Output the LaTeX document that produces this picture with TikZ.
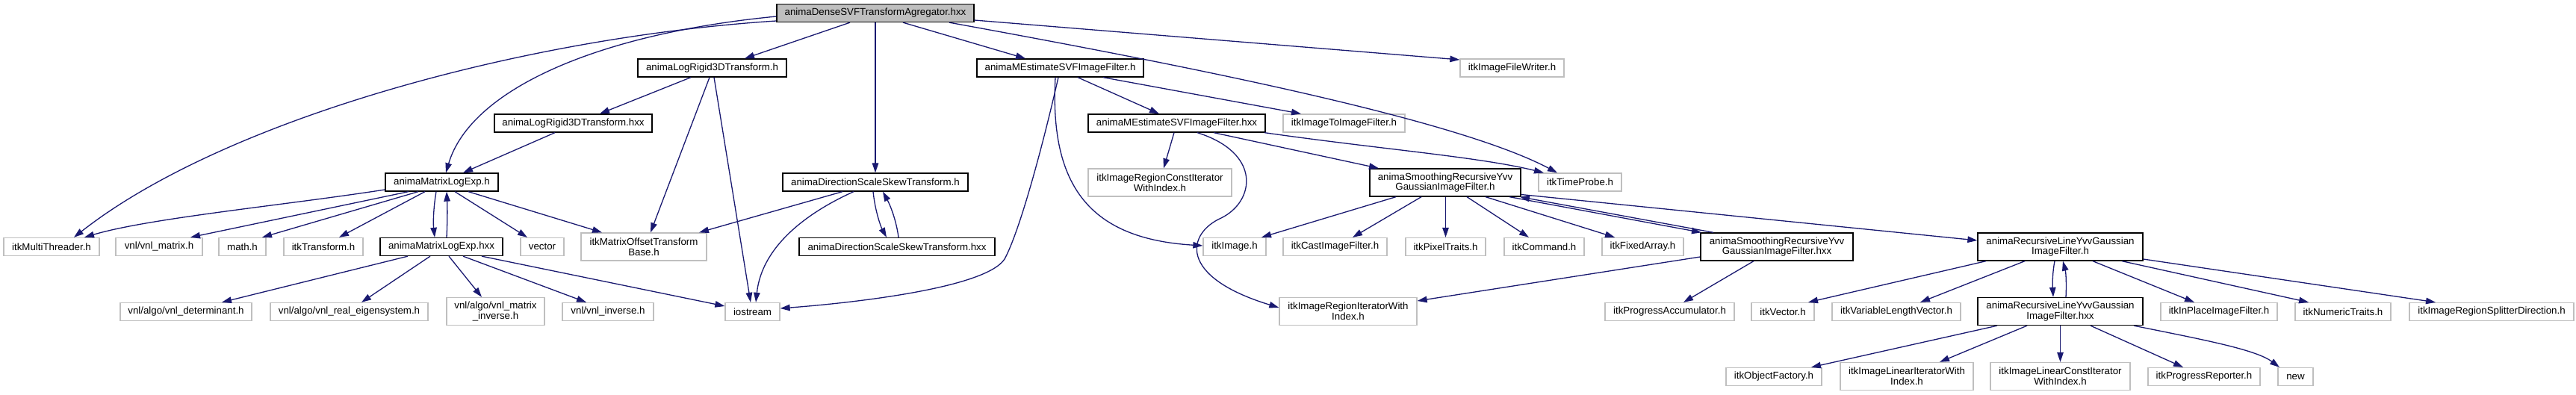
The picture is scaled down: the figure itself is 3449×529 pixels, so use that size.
\documentclass[tikz,border=0pt]{standalone}
\usepackage{fontspec}
\setmainfont{Liberation Sans}
\usetikzlibrary{arrows.meta}
\definecolor{edgecol}{HTML}{191970}
\definecolor{greyb}{HTML}{BFBFBF}
\begin{document}
\begin{tikzpicture}[x=1pt,y=-1pt,
  box/.style={draw=black,line width=1.3pt,fill=white,inner sep=0pt,align=center,
    font=\fontsize{13.3}{13.6}\selectfont},
  doc/.style={box,minimum height=24pt},
  docd/.style={box,minimum height=37pt},
  ext/.style={box,draw=greyb,minimum height=24pt},
  extd/.style={box,draw=greyb,minimum height=37pt},
  root/.style={box,fill=greyb,minimum height=24pt},
  edge/.style={draw=edgecol,line width=1.3pt,-{Triangle[length=13pt,width=8.5pt]}}]
\useasboundingbox (0,0) rectangle (3449,529);
\fill[white] (0,0) rectangle (3449,529);
% row 0
\node[root,minimum width=264pt] (T) at (1172,17.5) {animaDenseSVFTransformAgregator.hxx};
% row 1
\node[doc,minimum width=199pt] (LR) at (953.5,91) {animaLogRigid3DTransform.h};
\node[doc,minimum width=223pt] (ME) at (1419.5,91) {animaMEstimateSVFImageFilter.h};
\node[ext,minimum width=139pt] (IFW) at (2024.5,91) {itkImageFileWriter.h};
% row 2
\node[doc,minimum width=211pt] (LRX) at (767.5,165) {animaLogRigid3DTransform.hxx};
\node[doc,minimum width=237pt] (MEX) at (1575.5,165) {animaMEstimateSVFImageFilter.hxx};
\node[ext,minimum width=163pt] (ITIF) at (1799.5,165) {itkImageToImageFilter.h};
% row 3
\node[doc,minimum width=151pt] (MLE) at (591.5,244) {animaMatrixLogExp.h};
\node[doc,minimum width=248pt] (DSS) at (1172,244) {animaDirectionScaleSkewTransform.h};
\node[extd,minimum width=192pt] (IRCI) at (1553,244.5) {itkImageRegionConstIterator\\WithIndex.h};
\node[docd,minimum width=202pt] (SM) at (1935,244.5) {animaSmoothingRecursiveYvv\\GaussianImageFilter.h};
\node[ext,minimum width=111pt] (TP) at (2115.5,244) {itkTimeProbe.h};
% row 4
\node[ext,minimum width=128pt] (MT) at (69,330.5) {itkMultiThreader.h};
\node[ext,minimum width=116pt] (VM) at (213,330.5) {vnl/vnl\_matrix.h};
\node[ext,minimum width=63pt] (MATH) at (324.5,330.5) {math.h};
\node[ext,minimum width=106pt] (TR) at (433,330.5) {itkTransform.h};
\node[doc,minimum width=164pt] (MLEX) at (591,330.5) {animaMatrixLogExp.hxx};
\node[ext,minimum width=58pt] (VEC) at (726,330.5) {vector};
\node[extd,minimum width=168pt] (MOTB) at (862,330.5) {itkMatrixOffsetTransform\\Base.h};
\node[doc,minimum width=262pt] (DSSX) at (1201,330.5) {animaDirectionScaleSkewTransform.hxx};
\node[ext,minimum width=84pt] (IMG) at (1653,330.5) {itkImage.h};
\node[ext,minimum width=139pt] (CAST) at (1787.5,330.5) {itkCastImageFilter.h};
\node[ext,minimum width=107pt] (PIX) at (1935.5,330.5) {itkPixelTraits.h};
\node[ext,minimum width=107pt] (CMD) at (2067.5,330.5) {itkCommand.h};
\node[ext,minimum width=109pt] (FA) at (2199.5,330.5) {itkFixedArray.h};
\node[docd,minimum width=204pt] (SMX) at (2379,330.5) {animaSmoothingRecursiveYvv\\GaussianImageFilter.hxx};
\node[docd,minimum width=221pt] (RL) at (2758.5,330.5) {animaRecursiveLineYvvGaussian\\ImageFilter.h};
% row 5
\node[ext,minimum width=176pt] (DET) at (249,417.5) {vnl/algo/vnl\_determinant.h};
\node[ext,minimum width=211pt] (EIG) at (467.5,417.5) {vnl/algo/vnl\_real\_eigensystem.h};
\node[extd,minimum width=131pt] (MINV) at (663.5,417) {vnl/algo/vnl\_matrix\\\_inverse.h};
\node[ext,minimum width=122pt] (INV) at (814,417.5) {vnl/vnl\_inverse.h};
\node[ext,minimum width=73pt] (IOS) at (1007.5,417.5) {iostream};
\node[extd,minimum width=184pt] (IRI) at (1805,417) {itkImageRegionIteratorWith\\Index.h};
\node[ext,minimum width=173pt] (PA) at (2235.5,417.5) {itkProgressAccumulator.h};
\node[ext,minimum width=84pt] (VECT) at (2387,417.5) {itkVector.h};
\node[ext,minimum width=172pt] (VLV) at (2539,417.5) {itkVariableLengthVector.h};
\node[docd,minimum width=221pt] (RLX) at (2758.5,417) {animaRecursiveLineYvvGaussian\\ImageFilter.hxx};
\node[ext,minimum width=156pt] (IPF) at (2971,417.5) {itkInPlaceImageFilter.h};
\node[ext,minimum width=128pt] (NT) at (3137,417.5) {itkNumericTraits.h};
\node[ext,minimum width=220pt] (IRSD) at (3336,417.5) {itkImageRegionSplitterDirection.h};
% row 6
\node[ext,minimum width=128pt] (OF) at (2375,504.5) {itkObjectFactory.h};
\node[extd,minimum width=178pt] (ILI) at (2553,504) {itkImageLinearIteratorWith\\Index.h};
\node[extd,minimum width=187pt] (ILCI) at (2758.5,504) {itkImageLinearConstIterator\\WithIndex.h};
\node[ext,minimum width=150pt] (PR) at (2951,504.5) {itkProgressReporter.h};
\node[ext,minimum width=47pt] (NEW) at (3073.5,504.5) {new};
% edges from root
\draw[edge] ([xshift=-34pt]T.south) -- ([xshift=43.5pt]LR.north);
\draw[edge] ([xshift=37pt]T.south) -- ([xshift=-46.5pt]ME.north);
\draw[edge] (T.south) -- (DSS.north);
\draw[edge] ([yshift=-4.5pt]T.west) .. controls (800,45) and (630,120) .. ([xshift=5.5pt]MLE.north);
\draw[edge] ([yshift=-10.5pt]T.west) .. controls (700,50) and (300,160) .. ([xshift=30pt]MT.north);
\draw[edge] ([xshift=99pt]T.south) .. controls (1600,90) and (1950,160) .. ([xshift=-30.5pt]TP.north);
\draw[edge] ([yshift=-9.5pt]T.east) -- ([yshift=11pt]IFW.west);
% LR
\draw[edge] ([xshift=-28.5pt]LR.south) -- ([xshift=35.5pt]LRX.north);
\draw[edge] ([xshift=-3.5pt]LR.south) -- ([xshift=9pt]MOTB.north);
\draw[edge] ([xshift=2.5pt]LR.south) -- ([xshift=-2.5pt]IOS.north);
\draw[edge] ([xshift=-24.5pt]LRX.south) -- ([xshift=28.5pt]MLE.north);
% MLE
\draw[edge] ([yshift=-10pt]MLE.west) .. controls (380,275) and (200,292) .. ([xshift=44pt]MT.north);
\draw[edge] ([xshift=-44.5pt]MLE.south) -- ([xshift=42pt]VM.north);
\draw[edge] ([xshift=-31.5pt]MLE.south) -- ([xshift=26.5pt]MATH.north);
\draw[edge] ([xshift=-22.5pt]MLE.south) -- ([xshift=21pt]TR.north);
\draw[edge] ([xshift=-7.5pt]MLE.south) .. controls (580,280) and (580,300) .. ([xshift=-9pt]MLEX.north);
\draw[edge] ([xshift=7pt]MLEX.north) .. controls (599,298) and (599,278) .. ([xshift=6.5pt]MLE.south);
\draw[edge] ([xshift=17.5pt]MLE.south) -- ([xshift=-20pt]VEC.north);
\draw[edge] ([xshift=35.5pt]MLE.south) -- ([xshift=-56pt]MOTB.north);
% DSS
\draw[edge] ([xshift=-44pt]DSS.south) -- ([xshift=74pt]MOTB.north);
\draw[edge] ([xshift=-29pt]DSS.south) .. controls (1080,285) and (1020,330) .. ([xshift=4.5pt]IOS.north);
\draw[edge] ([xshift=-3pt]DSS.south) .. controls (1172,285) and (1180,305) .. ([xshift=-14pt]DSSX.north);
\draw[edge] ([xshift=2pt]DSSX.north) .. controls (1200,295) and (1192,275) .. ([xshift=10pt]DSS.south);
% MLEX
\draw[edge] ([xshift=-45pt]MLEX.south) -- ([xshift=48pt]DET.north);
\draw[edge] ([xshift=-15pt]MLEX.south) -- ([xshift=16.5pt]EIG.north);
\draw[edge] ([xshift=10pt]MLEX.south) -- ([xshift=-18.5pt]MINV.north);
\draw[edge] ([xshift=29pt]MLEX.south) -- ([xshift=-29pt]INV.north);
\draw[edge] ([xshift=54pt]MLEX.south) -- ([yshift=7.5pt]IOS.west);
% ME
\draw[edge] ([xshift=23.5pt]ME.south) -- ([xshift=-23.5pt]MEX.north);
\draw[edge] ([xshift=57.5pt]ME.south) -- ([xshift=-57.5pt]ITIF.north);
\draw[edge] ([xshift=-6.5pt]ME.south) .. controls (1405,250) and (1460,320) .. ([yshift=1.5pt]IMG.west);
\draw[edge] ([xshift=-2.5pt]ME.south) .. controls (1395,200) and (1365,310) .. (1345,347)
   .. controls (1320,385) and (1150,405) .. ([yshift=4.5pt]IOS.east);
% MEX
\draw[edge] ([xshift=-3.5pt]MEX.south) -- ([xshift=5pt]IRCI.north);
\draw[edge] ([xshift=27.5pt]MEX.south) .. controls (1690,205) and (1680,270) .. (1635,292)
   .. controls (1590,312) and (1575,370) .. ([yshift=5pt]IRI.west);
\draw[edge] ([xshift=49.5pt]MEX.south) -- ([xshift=-89pt]SM.north);
\draw[edge] ([xshift=117.5pt]MEX.south) .. controls (1850,200) and (1980,210) .. ([xshift=-48.5pt]TP.north);
% SM
\draw[edge] ([xshift=-66pt]SM.south) -- ([xshift=36pt]IMG.north);
\draw[edge] ([xshift=-32pt]SM.south) -- ([xshift=23.5pt]CAST.north);
\draw[edge] ([xshift=0.5pt]SM.south) -- (PIX.north);
\draw[edge] ([xshift=29pt]SM.south) -- ([xshift=-20.5pt]CMD.north);
\draw[edge] ([xshift=54pt]SM.south) -- ([xshift=-37.5pt]FA.north);
\draw[edge] ([xshift=86pt]SM.south) -- ([xshift=-101pt]SMX.north);
\draw[edge] ([xshift=-85pt]SMX.north) -- ([xshift=100pt]SM.south);
\draw[edge] ([yshift=-16pt]SM.east) -- ([yshift=8.5pt]RL.west);
% SMX
\draw[edge] ([yshift=-13.5pt]SMX.west) -- ([yshift=14pt]IRI.east);
\draw[edge] ([xshift=-31pt]SMX.south) -- ([xshift=18.5pt]PA.north);
% RL
\draw[edge] ([xshift=-99.5pt]RL.south) -- ([xshift=34pt]VECT.north);
\draw[edge] ([xshift=-47.5pt]RL.south) -- ([xshift=32pt]VLV.north);
\draw[edge] ([xshift=-7.5pt]RL.south) .. controls (2748,365) and (2748,380) .. ([xshift=-9.5pt]RLX.north);
\draw[edge] ([xshift=7.5pt]RLX.north) .. controls (2767,380) and (2766,365) .. ([xshift=3.5pt]RL.south);
\draw[edge] ([xshift=43.5pt]RL.south) -- ([xshift=-33pt]IPF.north);
\draw[edge] ([xshift=82.5pt]RL.south) -- ([xshift=-46pt]NT.north);
\draw[edge] ([yshift=-16.5pt]RL.east) -- ([xshift=-75pt]IRSD.north);
% RLX
\draw[edge] ([xshift=-84.5pt]RLX.south) -- ([xshift=50pt]OF.north);
\draw[edge] ([xshift=-44.5pt]RLX.south) -- ([xshift=44pt]ILI.north);
\draw[edge] (RLX.south) -- (ILCI.north);
\draw[edge] ([xshift=40.5pt]RLX.south) -- ([xshift=-28pt]PR.north);
\draw[edge] ([xshift=98.5pt]RLX.south) .. controls (2950,455) and (3020,468) .. ([xshift=-21.5pt]NEW.north);
\end{tikzpicture}
\end{document}
